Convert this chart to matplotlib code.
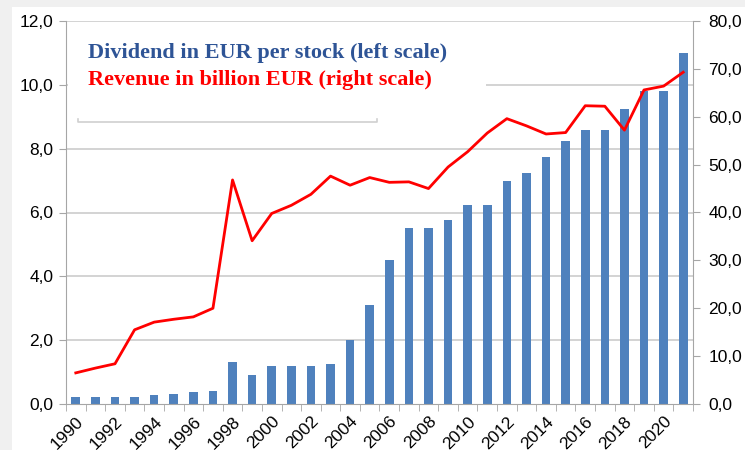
import numpy as np
import matplotlib
matplotlib.use("Agg")
import matplotlib.pyplot as plt
from matplotlib.patches import Rectangle

years = list(range(1990, 2022))
dividend = [0.21, 0.21, 0.21, 0.23, 0.27, 0.32, 0.39, 0.42, 1.32, 0.90,
            1.20, 1.20, 1.20, 1.25, 2.00, 3.10, 4.50, 5.50, 5.50, 5.75,
            6.25, 6.25, 7.00, 7.25, 7.75, 8.25, 8.60, 8.60, 9.25, 9.80,
            9.80, 11.00]
revenue = [6.5, 7.5, 8.4, 15.5, 17.1, 17.7, 18.2, 20.0, 46.8, 34.1,
           39.8, 41.5, 43.8, 47.6, 45.7, 47.3, 46.3, 46.4, 45.0, 49.5,
           52.7, 56.6, 59.6, 58.1, 56.4, 56.7, 62.3, 62.2, 57.2, 65.6,
           66.4, 69.3]
left_ticks = [0, 2, 4, 6, 8, 10, 12]
right_ticks = [0, 10, 20, 30, 40, 50, 60, 70, 80]

plt.rcParams['font.family'] = ['Liberation Sans', 'DejaVu Sans']

fig = plt.figure(figsize=(7.45, 4.5), dpi=100)
fig.patch.set_facecolor('white')
# light grey frame strips (top and left)
fig.patches.append(Rectangle((0, 1 - 7 / 450), 1, 7 / 450, transform=fig.transFigure,
                             facecolor='#f0f0f0', edgecolor='none', zorder=0))
fig.patches.append(Rectangle((0, 0), 12 / 745, 1, transform=fig.transFigure,
                             facecolor='#f0f0f0', edgecolor='none', zorder=0))

ax = fig.add_axes([66 / 745, 1 - 404 / 450, (693 - 66) / 745, (404 - 21) / 450])
x = np.arange(len(years))
grid_c = '#c8c8c8'
for t in left_ticks[1:]:
    ax.axhline(t, color=grid_c, lw=1.1, zorder=1)
ax.bar(x, dividend, width=0.44, color='#4f81bd', zorder=2)
ax.set_xlim(-0.5, len(years) - 0.5)
ax.set_ylim(0, 12)
ax.set_yticks(left_ticks)
ax.set_yticklabels([f"{t:.1f}".replace('.', ',') for t in left_ticks], fontsize=12.5)
ax.set_xticks(x[::2])
ax.set_xticklabels([str(y) for y in years[::2]], rotation=45, ha='right',
                   rotation_mode='anchor', fontsize=12.5)
ax.set_xticks(np.arange(-0.5, len(years), 1), minor=True)
ax.tick_params(axis='x', which='major', length=0, pad=7)
ax.tick_params(axis='x', which='minor', length=5, color='#a6a6a6', direction='out')
ax.tick_params(axis='y', length=5, color='#a6a6a6', pad=4)
for s in ['top', 'right']:
    ax.spines[s].set_visible(False)
ax.spines['left'].set_color('#a6a6a6')
ax.spines['bottom'].set_color('#a6a6a6')
ax.spines['left'].set_zorder(6)

ax2 = ax.twinx()
ax2.plot(x, revenue, color='#ff0000', lw=2, zorder=3)
ax2.set_ylim(0, 80)
ax2.set_yticks(right_ticks)
ax2.set_yticklabels([f"{t:.1f}".replace('.', ',') for t in right_ticks], fontsize=12.5)
ax2.tick_params(axis='y', length=5, color='#a6a6a6', pad=6)
for s in ['top', 'left', 'bottom']:
    ax2.spines[s].set_visible(False)
ax2.spines['right'].set_color('#a6a6a6')

# legend box covering gridlines
ax2.add_patch(Rectangle((67.5 / 745, 1 - 122 / 450), (486 - 67.5) / 745, (122 - 23) / 450,
                        transform=fig.transFigure, facecolor='white', edgecolor='none', zorder=4))
fig.add_artist(plt.Line2D([78 / 745, 78 / 745, 377 / 745, 377 / 745],
                          [1 - 119 / 450, 1 - 122 / 450, 1 - 122 / 450, 1 - 119 / 450],
                          color='#d0d0d0', lw=1.2, zorder=5))
fig.text(88 / 745, 1 - 53 / 450, 'Dividend in EUR per stock (left scale)', color='#2e5496',
         fontsize=16, fontweight='bold', family=['Liberation Serif', 'DejaVu Serif'],
         va='center', zorder=6)
fig.text(88 / 745, 1 - 80 / 450, 'Revenue in billion EUR (right scale)', color='#ff0000',
         fontsize=16, fontweight='bold', family=['Liberation Serif', 'DejaVu Serif'],
         va='center', zorder=6)

fig.savefig('out.png', dpi=100)
